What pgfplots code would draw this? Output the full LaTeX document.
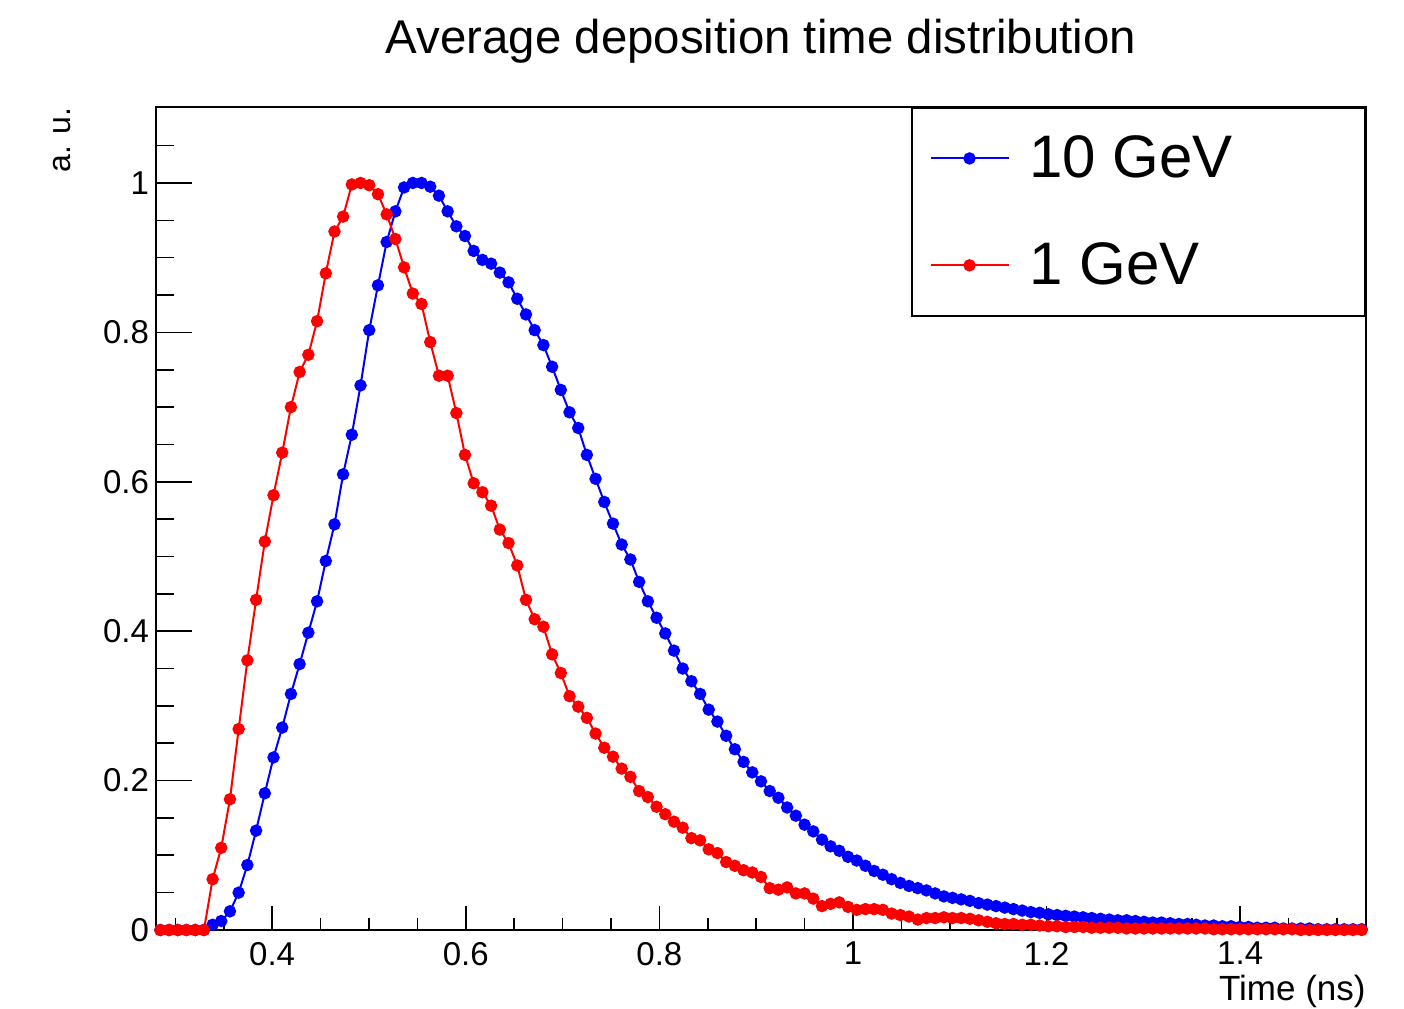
\documentclass[border=0pt]{standalone}
\usepackage{pgfplots}
\usepackage{pgfplotstable}
\pgfplotsset{compat=1.18}
\usepackage{fontspec}
\setmainfont{Liberation Sans}
\definecolor{rblue}{RGB}{0,0,255}
\definecolor{rred}{RGB}{255,0,0}
\pgfplotstableread{
x e10 e1
0.2845 0 0
0.2935 0 0
0.3025 0 0
0.3115 0 0
0.3205 0 0
0.3295 0 0
0.3385 0.007 0.068
0.3474 0.012 0.110
0.3564 0.025 0.175
0.3654 0.050 0.269
0.3744 0.087 0.361
0.3834 0.133 0.442
0.3924 0.183 0.520
0.4014 0.231 0.582
0.4104 0.271 0.639
0.4194 0.316 0.700
0.4284 0.356 0.747
0.4374 0.398 0.770
0.4464 0.440 0.815
0.4554 0.494 0.879
0.4644 0.543 0.935
0.4733 0.610 0.955
0.4823 0.663 0.998
0.4913 0.729 1.000
0.5003 0.803 0.997
0.5093 0.863 0.985
0.5183 0.921 0.958
0.5273 0.962 0.925
0.5363 0.994 0.887
0.5453 1.000 0.852
0.5543 1.000 0.838
0.5633 0.995 0.787
0.5723 0.983 0.742
0.5813 0.962 0.742
0.5903 0.942 0.692
0.5992 0.929 0.636
0.6082 0.909 0.598
0.6172 0.897 0.586
0.6262 0.892 0.568
0.6352 0.880 0.536
0.6442 0.867 0.518
0.6532 0.845 0.488
0.6622 0.824 0.442
0.6712 0.803 0.416
0.6802 0.783 0.406
0.6892 0.754 0.369
0.6982 0.723 0.344
0.7072 0.693 0.313
0.7162 0.672 0.299
0.7251 0.636 0.284
0.7341 0.604 0.263
0.7431 0.573 0.244
0.7521 0.544 0.232
0.7611 0.516 0.216
0.7701 0.496 0.205
0.7791 0.466 0.186
0.7881 0.440 0.178
0.7971 0.418 0.165
0.8061 0.397 0.155
0.8151 0.374 0.145
0.8241 0.350 0.137
0.8331 0.333 0.123
0.8421 0.316 0.120
0.8510 0.295 0.108
0.8600 0.279 0.103
0.8690 0.260 0.091
0.8780 0.242 0.086
0.8870 0.225 0.080
0.8960 0.211 0.077
0.9050 0.199 0.071
0.9140 0.186 0.056
0.9230 0.177 0.054
0.9320 0.164 0.057
0.9410 0.153 0.049
0.9500 0.141 0.049
0.9590 0.132 0.042
0.9680 0.121 0.032
0.9769 0.112 0.035
0.9859 0.106 0.037
0.9949 0.098 0.031
1.0039 0.093 0.027
1.0129 0.086 0.028
1.0219 0.079 0.028
1.0309 0.074 0.027
1.0399 0.068 0.022
1.0489 0.063 0.020
1.0579 0.059 0.018
1.0669 0.056 0.014
1.0759 0.053 0.016
1.0849 0.049 0.016
1.0939 0.045 0.017
1.1028 0.043 0.016
1.1118 0.041 0.016
1.1208 0.039 0.015
1.1298 0.036 0.013
1.1388 0.034 0.011
1.1478 0.032 0.009
1.1568 0.030 0.008
1.1658 0.028 0.008
1.1748 0.026 0.007
1.1838 0.024 0.007
1.1928 0.023 0.006
1.2018 0.021 0.005
1.2108 0.020 0.005
1.2198 0.019 0.004
1.2287 0.018 0.004
1.2377 0.017 0.004
1.2467 0.016 0.003
1.2557 0.015 0.003
1.2647 0.014 0.003
1.2737 0.013 0.003
1.2827 0.013 0.002
1.2917 0.012 0.002
1.3007 0.011 0.002
1.3097 0.010 0.002
1.3187 0.010 0.002
1.3277 0.009 0.002
1.3367 0.008 0.002
1.3456 0.008 0.002
1.3546 0.007 0.002
1.3636 0.006 0.002
1.3726 0.006 0.001
1.3816 0.005 0.001
1.3906 0.005 0.001
1.3996 0.004 0.001
1.4086 0.004 0.001
1.4176 0.003 0.001
1.4266 0.003 0.001
1.4356 0.003 0.001
1.4446 0.002 0.001
1.4536 0.002 0.001
1.4626 0.002 0
1.4715 0.002 0
1.4805 0.001 0
1.4895 0.001 0
1.4985 0.001 0
1.5075 0.001 0
1.5165 0.001 0
1.5255 0.001 0
}\datatable

\pgfplotsset{
  rootbase/.style={
    width=605pt, height=411.5pt, scale only axis,
    at={(0,0)}, anchor=south west,
    xmin=0.28, xmax=1.53, ymin=0, ymax=1.1017,
    axis line style={line width=1pt},
    tick align=inside,
    every tick/.style={black, line width=0.8pt},
    ticklabel style={font=\fontsize{16.5}{19}\selectfont},
    /pgf/number format/assume math mode=true,
  }
}

\begin{document}
\begin{tikzpicture}
% axis carrying the x ticks
\begin{axis}[rootbase,
    xtick={0.4,0.6,0.8,1,1.2,1.4},
    xticklabels={0.4,0.6,0.8,1,1.2,1.4},
    xticklabel style={yshift=-2.5pt},
    minor xtick={0.3,0.35,0.45,0.5,0.55,0.65,0.7,0.75,0.85,0.9,0.95,1.05,1.1,1.15,1.25,1.3,1.35,1.45,1.5},
    ytick=\empty,
    xtick pos=bottom,
    major tick length=12pt, minor tick length=6pt,
    xlabel={Time (ns)},
    xlabel style={at={(axis description cs:1,0)}, anchor=east, inner sep=0pt, yshift=-30.5pt, font=\fontsize{17.5}{20}\selectfont},
]
\end{axis}
% main axis with data and y ticks
\begin{axis}[rootbase,
    xtick=\empty,
    ytick={0,0.2,0.4,0.6,0.8,1},
    yticklabels={0,0.2,0.4,0.6,0.8,1},
    minor ytick={0.05,0.1,0.15,0.25,0.3,0.35,0.45,0.5,0.55,0.65,0.7,0.75,0.85,0.9,0.95,1.05},
    ytick pos=left,
    major tick length=18pt, minor tick length=9pt,
    clip=false,
    title={Average deposition time distribution},
    title style={at={(axis description cs:0.5,1)}, anchor=center, yshift=27pt, font=\fontsize{23.7}{28}\selectfont},
    ylabel={a. u.},
    ylabel style={at={(axis description cs:-0.0777,1)}, anchor=east, inner sep=0pt, font=\fontsize{16}{19}\selectfont},
    legend style={at={(axis description cs:1,1)}, anchor=north east, draw=black, line width=1pt,
      fill=white, font=\fontsize{30}{36}\selectfont, inner xsep=9pt, inner ysep=12pt, row sep=27pt, column sep=8pt},
    legend cell align=left,
    legend image code/.code={\draw[#1,mark repeat=2,mark phase=2] plot coordinates {(0pt,0pt) (19.5pt,0pt) (39pt,0pt)};},
]
\addplot[rblue, line width=1pt, mark=*, mark size=2.6pt, mark options={solid, fill=rblue, draw=rblue}] table[x=x, y=e10] {\datatable};
\addlegendentry{10 GeV\hspace*{55pt}}
\addplot[rred, line width=1pt, mark=*, mark size=2.6pt, mark options={solid, fill=rred, draw=rred}] table[x=x, y=e1] {\datatable};
\addlegendentry{1 GeV}
\end{axis}
\pgfresetboundingbox
\path[use as bounding box] (-78pt,-39pt) rectangle (624pt,465pt);
\end{tikzpicture}
\end{document}
